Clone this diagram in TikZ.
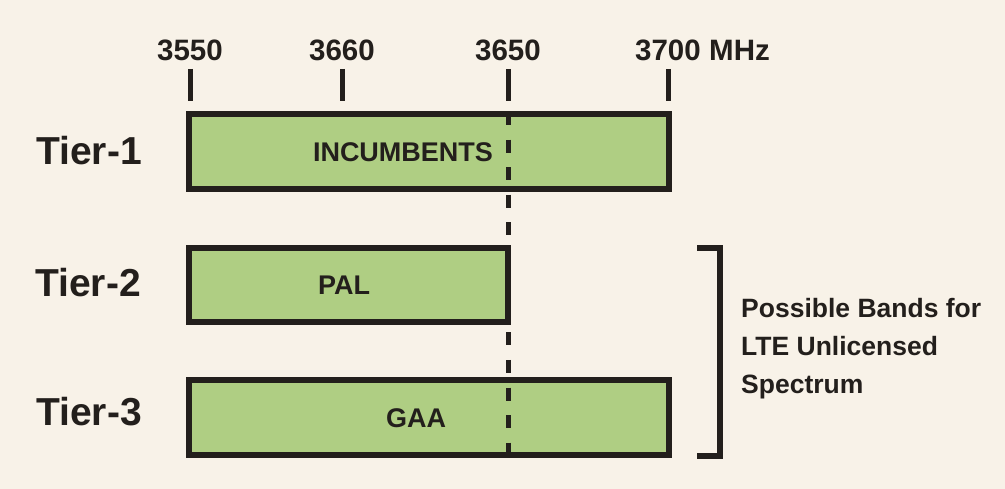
\documentclass[tikz,border=0pt]{standalone}
\usepackage{fontspec}
\setmainfont{Liberation Sans}
\definecolor{bg}{HTML}{F8F2E8}
\definecolor{band}{HTML}{AFCE83}
\definecolor{ink}{HTML}{231F1C}
\tikzset{
  bandbox/.style={draw=ink, line width=6pt, fill=band, inner sep=0pt, rectangle},
  ticktxt/.style={text=ink, font=\bfseries\fontsize{29.5}{31}\selectfont, inner sep=0pt, anchor=base},
  tiertxt/.style={text=ink, font=\bfseries\fontsize{39}{41}\selectfont, inner sep=0pt, anchor=base west},
  inbox/.style={text=ink, font=\bfseries\fontsize{27}{29}\selectfont, inner sep=0pt, anchor=base},
  sidetxt/.style={text=ink, font=\bfseries\fontsize{26.5}{38}\selectfont, inner sep=0pt, anchor=base west, align=left},
  tickline/.style={draw=ink, line width=5pt},
  dashline/.style={draw=ink, line width=5pt, dash pattern=on 13pt off 14.55pt},
  bracketline/.style={draw=ink, line width=6pt}
}
\begin{document}
\begin{tikzpicture}[x=1pt, y=-1pt]
\fill[bg] (0,0) rectangle (1005,489);
\useasboundingbox (0,0) rectangle (1005,489);

% tick labels
\node[ticktxt] (l3550) at (190,61) {3550};
\node[ticktxt] (l3660) at (342,61) {3660};
\node[ticktxt] (l3650) at (508,61) {3650};
\node[ticktxt] (l3700) at (668,61) {3700};
\node[ticktxt, anchor=base west] (lmhz) at ([xshift=8pt]l3700.base east) {MHz};

% ticks
\coordinate (t1a) at (190,69); \coordinate (t1b) at (190,101);
\coordinate (t2a) at (342,69); \coordinate (t2b) at (342,101);
\coordinate (t3a) at (508,69); \coordinate (t3b) at (508,101);
\coordinate (t4a) at (668,69); \coordinate (t4b) at (668,101);
\draw[tickline] (t1a) -- (t1b);
\draw[tickline] (t2a) -- (t2b);
\draw[tickline] (t3a) -- (t3b);
\draw[tickline] (t4a) -- (t4b);

% bands
\node[bandbox, minimum width=480pt, minimum height=75pt] (tier1) at (429,151.5) {};
\node[bandbox, minimum width=319pt, minimum height=74pt] (tier2) at (348.5,285) {};
\node[bandbox, minimum width=480pt, minimum height=75pt] (tier3) at (429,417.5) {};

% dashed 3650 line
\coordinate (dtop) at (508,112);
\coordinate (dbot) at (508,456);
\draw[dashline] (dtop) -- (dbot);

% band texts
\node[inbox] (inc) at (403,162) {INCUMBENTS};
\node[inbox] (pal) at (344,295) {PAL};
\node[inbox] (gaa) at (416,427) {GAA};

% tier labels
\node[tiertxt] (lt1) at (36,165) {Tier-1};
\node[tiertxt] (lt2) at (35,297) {Tier-2};
\node[tiertxt] (lt3) at (36,425) {Tier-3};

% bracket
\coordinate (b1) at (697,248);
\coordinate (b2) at (720,248);
\coordinate (b3) at (720,456);
\coordinate (b4) at (697,456);
\draw[bracketline] (b1) -- (b2) -- (b3) -- (b4);

\node[sidetxt] (side) at (741,393) {Possible Bands for\\LTE Unlicensed\\Spectrum};
\end{tikzpicture}
\end{document}
